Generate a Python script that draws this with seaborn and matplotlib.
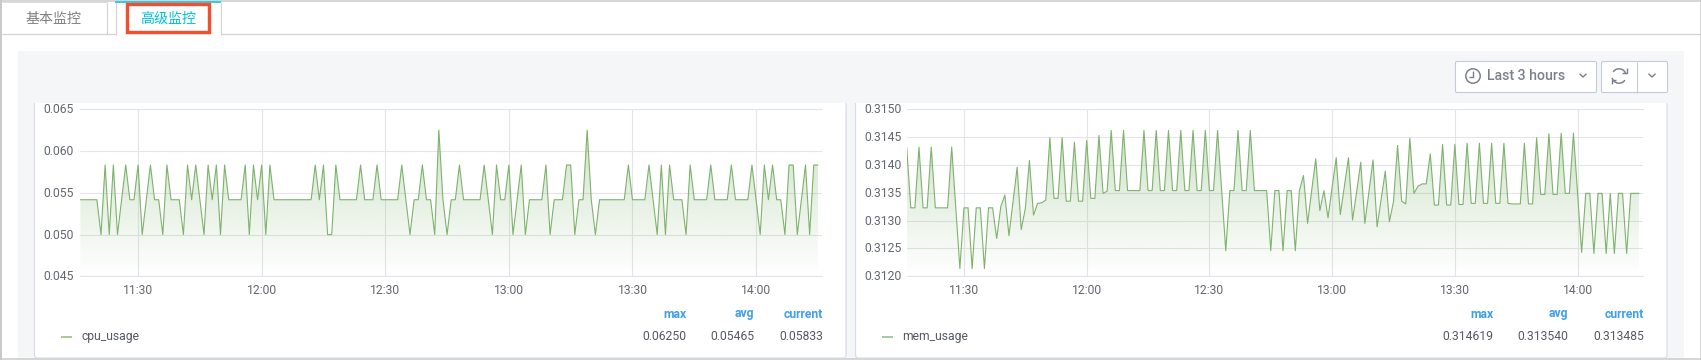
import numpy as np
import pandas as pd
import matplotlib
matplotlib.use("Agg")
import matplotlib.pyplot as plt
import matplotlib.dates as mdates
from matplotlib.patches import Rectangle, FancyBboxPatch, Circle, Arc, Polygon
from matplotlib.transforms import ScaledTranslation
from matplotlib.colors import to_rgb
import seaborn as sns

# ---------- data ----------
start_time = "2019-01-01 11:16"
end_time = "2019-01-01 14:16"
cpu_usage = [
    .05417, .05417, .05417, .05417, .05417, .05000, .05833, .05000, .05833, .05000,
    .05417, .05833, .05417, .05417, .05833, .05000, .05417, .05833, .05417, .05417,
    .05000, .05833, .05417, .05417, .05417, .05000, .05833, .05417, .05833, .05417,
    .05000, .05833, .05417, .05833, .05000, .05833, .05417, .05417, .05417, .05417,
    .05833, .05000, .05833, .05417, .05833, .05000, .05833, .05417, .05417, .05417,
    .05417, .05417, .05417, .05417, .05417, .05417, .05417, .05833, .05417, .05833,
    .05000, .05000, .05833, .05417, .05417, .05417, .05417, .05417, .05833, .05417,
    .05417, .05417, .05833, .05417, .05417, .05417, .05417, .05417, .05833, .05417,
    .05000, .05417, .05417, .05833, .05417, .05417, .05000, .06250, .05417, .05000,
    .05417, .05417, .05833, .05417, .05417, .05417, .05417, .05417, .05833, .05417,
    .05000, .05833, .05417, .05417, .05833, .05000, .05417, .05833, .05000, .05417,
    .05417, .05417, .05417, .05833, .05000, .05417, .05417, .05417, .05833, .05833,
    .05000, .05417, .05417, .06250, .05417, .05000, .05417, .05417, .05417, .05417,
    .05417, .05417, .05417, .05833, .05417, .05417, .05417, .05417, .05833, .05417,
    .05000, .05833, .05000, .05833, .05417, .05417, .05417, .05000, .05833, .05417,
    .05417, .05417, .05417, .05833, .05417, .05417, .05417, .05417, .05833, .05417,
    .05417, .05417, .05417, .05833, .05417, .05000, .05833, .05417, .05833, .05417,
    .05417, .05000, .05833, .05833, .05000, .05417, .05833, .05000, .05833, .05833,
]
mem_usage = [
    .31432, .31323, .31323, .31432, .31323, .31323, .31432, .31323, .31323, .31323,
    .31323, .31432, .31323, .31214, .31323, .31323, .31214, .31323, .31323, .31214,
    .31323, .31323, .31268, .31325, .31346, .31273, .31335, .31396, .31284, .31322,
    .31408, .31310, .31331, .31332, .31337, .31449, .31340, .31340, .31449, .31335,
    .31335, .31441, .31335, .31335, .31444, .31340, .31340, .31453, .31349, .31353,
    .31462, .31354, .31354, .31462, .31354, .31354, .31354, .31354, .31462, .31354,
    .31354, .31462, .31354, .31354, .31462, .31354, .31354, .31462, .31354, .31354,
    .31462, .31354, .31354, .31462, .31354, .31354, .31462, .31354, .31246, .31354,
    .31354, .31462, .31354, .31354, .31462, .31354, .31354, .31354, .31354, .31246,
    .31354, .31354, .31246, .31354, .31354, .31246, .31354, .31381, .31295, .31354,
    .31411, .31318, .31354, .31305, .31360, .31413, .31311, .31362, .31413, .31301,
    .31352, .31405, .31295, .31352, .31409, .31289, .31339, .31389, .31298, .31334,
    .31435, .31335, .31330, .31448, .31349, .31362, .31366, .31366, .31420, .31328,
    .31328, .31437, .31328, .31328, .31437, .31329, .31329, .31439, .31331, .31331,
    .31439, .31331, .31331, .31439, .31331, .31331, .31439, .31331, .31330, .31330,
    .31330, .31439, .31330, .31330, .31449, .31347, .31347, .31456, .31347, .31347,
    .31457, .31349, .31349, .31457, .31349, .31243, .31349, .31349, .31241, .31349,
    .31349, .31241, .31349, .31241, .31349, .31349, .31241, .31349, .31349, .31349,
]
time_ticks = ["11:30", "12:00", "12:30", "13:00", "13:30", "14:00"]
cpu_yticks = [0.045, 0.050, 0.055, 0.060, 0.065]
cpu_ylabels = ["0.045", "0.050", "0.055", "0.060", "0.065"]
mem_yticks = [0.3120, 0.3125, 0.3130, 0.3135, 0.3140, 0.3145, 0.3150]
mem_ylabels = ["0.3120", "0.3125", "0.3130", "0.3135", "0.3140", "0.3145", "0.3150"]
stat_names = ["max", "avg", "current"]
cpu_stats = ["0.06250", "0.05465", "0.05833"]
mem_stats = ["0.314619", "0.313540", "0.313485"]
tab_labels = ["基本监控", "高级监控"]
range_label = "Last 3 hours"

# ---------- style ----------
W, H = 1701, 360
LINE = "#7eb26d"
GRID = "#e3e5e8"
TICK = "#63676e"
BORDER = "#c9c9c9"
PANEL = "#f5f6f8"
CARD_EDGE = "#d8dde6"
sns.set_theme(style="white")
plt.rcParams["font.family"] = ["Roboto", "Noto Sans CJK SC", "DejaVu Sans"]
PX = 0.72  # one pixel, in points at dpi 100

fig = plt.figure(figsize=(W / 100, H / 100), dpi=100, facecolor="white")
page = fig.add_axes([0, 0, 1, 1], zorder=0)
page.set_xlim(0, W)
page.set_ylim(H, 0)
page.axis("off")


def rect(x0, y0, x1, y1, fc="none", ec="none", lw=1.0, z=1):
    page.add_patch(Rectangle((x0, y0), x1 - x0, y1 - y0, fc=fc, ec=ec, lw=lw * PX, zorder=z))


def seg(xs, ys, c, lw=1.0, z=2, **kw):
    page.plot(xs, ys, color=c, lw=lw * PX, zorder=z, solid_capstyle="butt", **kw)


# outer frame
seg([0.5, 0.5], [0, 360], BORDER, 2)
seg([1700.5, 1700.5], [0, 360], BORDER, 1.5)
seg([0, 1701], [0.7, 0.7], BORDER, 1.5)
seg([0, 1701], [359.2, 359.2], BORDER, 1.5)

# tabs
seg([2, 1701], [34.3, 34.3], "#d4d4d4", 1.3)
seg([106.5, 106.5], [2, 34], "#d4d4d4", 1.2)
seg([2, 106.5], [2, 2], "#dddddd", 1)
rect(115.5, 2, 220.5, 35.5, fc="white", z=3)
seg([115.5, 115.5], [2, 35], "#d4d4d4", 1.2, z=4)
seg([220.5, 220.5], [2, 35], "#d4d4d4", 1.2, z=4)
seg([115, 221], [2, 2], "#00c1de", 1.5, z=4)
page.text(54, 18.5, tab_labels[0], color="#808080", fontsize=10.1, ha="center", va="center", zorder=5)
page.text(168, 18.5, tab_labels[1], color="#00c1de", fontsize=10.1, ha="center", va="center", zorder=5)
rect(126.8, 4.4, 208.5, 31.7, ec="#ef5030", lw=3.4, z=6)

# panel background
rect(18, 51, 1684, 359, fc=PANEL, z=1)

# chart cards
for x0, x1 in [(34.5, 846), (855.5, 1667)]:
    page.add_patch(FancyBboxPatch((x0, 90), x1 - x0, 268, boxstyle="round,pad=0,rounding_size=3",
                                  fc="white", ec=CARD_EDGE, lw=1.2 * PX, zorder=2))
rect(18, 51, 1684, 103, fc=PANEL, z=3)

# range picker and refresh buttons
BTN = "#c3cbd9"
ICON = "#7b8089"
page.add_patch(FancyBboxPatch((1455.5, 61.5), 141, 31, boxstyle="round,pad=0,rounding_size=1.5",
                              fc="white", ec=BTN, lw=1.1 * PX, zorder=4))
page.add_patch(FancyBboxPatch((1601.5, 61.5), 66, 31, boxstyle="round,pad=0,rounding_size=1.5",
                              fc="white", ec=BTN, lw=1.1 * PX, zorder=4))
seg([1636.7, 1636.7], [61.5, 92.5], BTN, 1.1, z=5)
page.text(1486.5, 76, range_label, color=ICON, fontsize=10.2, fontweight="medium",
          ha="left", va="center", zorder=5)
page.add_patch(Circle((1473, 76), 7.2, fc="none", ec=ICON, lw=1.5 * PX, zorder=5))
seg([1473.3, 1473.3, 1468.5], [71, 77, 77], ICON, 1.4, z=5)
for cx in (1583, 1652):
    seg([cx - 3.5, cx, cx + 3.5], [73.7, 77, 73.7], ICON, 1.4, z=5)
page.add_patch(Arc((1619, 76), 14.4, 14.4, theta1=215, theta2=345, ec=ICON, lw=1.5 * PX, zorder=5))
page.add_patch(Arc((1619, 76), 14.4, 14.4, theta1=35, theta2=165, ec=ICON, lw=1.5 * PX, zorder=5))
page.add_patch(Polygon([[1626.5, 68], [1626.5, 72.5], [1622, 72.5]], closed=False, fc="none", ec=ICON,
                       lw=1.4 * PX, zorder=5))
page.add_patch(Polygon([[1611.5, 84], [1611.5, 79.5], [1616, 79.5]], closed=False, fc="none", ec=ICON,
                       lw=1.4 * PX, zorder=5))


def draw_chart(left, right, values, yticks, ylabels, name, stats, dash_x, label_x, stat_x, ypad):
    """One monitoring chart; left/right are the axes bounds in figure pixels."""
    top, bottom = 109.3, 276.3
    ax = fig.add_axes([left / W, 1 - bottom / H, (right - left) / W, (bottom - top) / H], zorder=5)
    ax.patch.set_alpha(0)
    times = pd.date_range(start_time, periods=len(values), freq="min")
    df = pd.DataFrame({"time": times, name: values})
    ymin, ymax = yticks[0], yticks[-1]
    xlim = mdates.date2num([pd.Timestamp(start_time), pd.Timestamp(end_time)])

    # gradient fill below the line
    poly = ax.fill_between(df["time"], df[name], ymin, facecolor="none", edgecolor="none")
    t = np.linspace(0.42, 0.0, 256).reshape(-1, 1)
    rgba = np.zeros((256, 1, 4))
    rgba[..., :3] = to_rgb(LINE)
    rgba[..., 3] = t
    im = ax.imshow(rgba, extent=[xlim[0], xlim[1], ymin, ymax], origin="upper", aspect="auto", zorder=1)
    im.set_clip_path(poly.get_paths()[0], transform=ax.transData)

    sns.lineplot(data=df, x="time", y=name, ax=ax, color=LINE, lw=0.8, errorbar=None, zorder=3)
    ax.set_xlim(*xlim)
    ax.set_ylim(ymin, ymax)
    ax.set_xlabel("")
    ax.set_ylabel("")
    ax.set_yticks(yticks, ylabels)
    ax.set_xticks(mdates.date2num([pd.Timestamp("2019-01-01 " + s) for s in time_ticks]), time_ticks)
    ax.tick_params(axis="both", length=0, labelsize=8.7, labelcolor=TICK)
    ax.tick_params(axis="y", pad=ypad)
    ax.tick_params(axis="x", pad=5.2)
    lift = ScaledTranslation(0, 1 / 100, fig.dpi_scale_trans)
    for lab in ax.get_yticklabels():
        lab.set_transform(lab.get_transform() + lift)
    ax.grid(True, color=GRID, lw=1.1 * PX)
    ax.set_axisbelow(True)
    for s in ax.spines.values():
        s.set_visible(False)
    ax.plot(xlim, [ymin, ymin], color=GRID, lw=1.1 * PX, clip_on=False, zorder=2)
    ax.plot(xlim, [ymax, ymax], color=GRID, lw=1.1 * PX, clip_on=False, zorder=2)

    # legend table
    seg([dash_x, dash_x + 11], [337, 337], "#a6cc98", 2, z=6)
    page.text(label_x, 336.6, name, color="#555962", fontsize=8.7, ha="left", va="center", zorder=6)
    for sx, head, val in zip(stat_x, stat_names, stats):
        page.text(sx, 314, head, color="#3f9fee", fontsize=8.7, fontweight="bold", ha="right", va="center", zorder=6)
        page.text(sx, 336.6, val, color="#555962", fontsize=8.7, ha="right", va="center", zorder=6)


draw_chart(80.4, 822, cpu_usage, cpu_yticks, cpu_ylabels, "cpu_usage", cpu_stats,
           60.7, 81, [686, 754.5, 823], 4.6)
draw_chart(906.7, 1643, mem_usage, mem_yticks, mem_ylabels, "mem_usage", mem_stats,
           881.7, 902, [1493.3, 1568.3, 1644], 3.4)

fig.savefig("out.png", dpi=100, facecolor="white")
